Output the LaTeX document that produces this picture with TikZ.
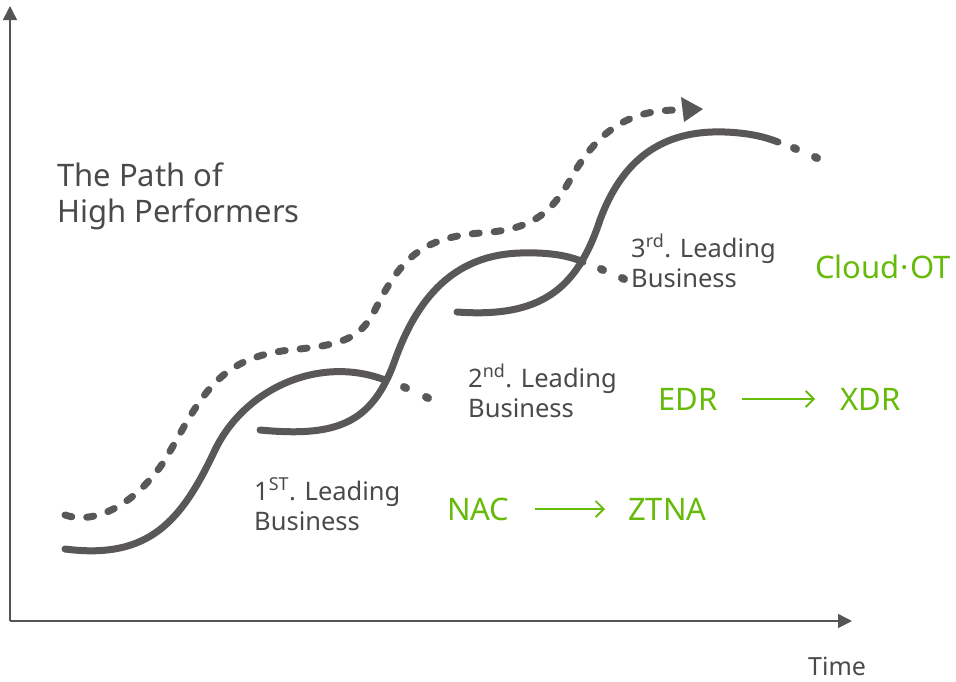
\documentclass[tikz,border=0pt]{standalone}
\usepackage{fontspec}
\setmainfont{Noto Sans}
\usetikzlibrary{arrows.meta}
\definecolor{curvegray}{HTML}{595757}
\definecolor{txtgray}{HTML}{4A4A4A}
\definecolor{axisgray}{HTML}{555555}
\definecolor{lgreen}{HTML}{66BB0A}
\tikzset{
  wave/.style={draw=curvegray, line width=7pt, line cap=round},
  dotseg/.style={draw=curvegray, line width=8pt, line cap=round},
  dashwave/.style={draw=curvegray, line width=7pt, line cap=round, dash pattern=on 7pt off 15pt},
  axisline/.style={draw=axisgray, line width=1.5pt, -{Triangle[length=14pt,width=14pt]}},
  lbl/.style={anchor=base west, inner sep=0pt, text=txtgray, font=\fontsize{25.5}{30}\selectfont, align=left},
  glbl/.style={anchor=base west, inner sep=0pt, text=lgreen, font=\fontsize{31}{36}\selectfont},
  garrow/.style={draw=lgreen, line width=1.8pt, -{Straight Barb[length=8pt,width=16pt]}}
}
\begin{document}
\begin{tikzpicture}[x=1pt,y=-1pt]
\useasboundingbox (0,0) rectangle (956,681);
% axes
\coordinate (origin) at (10,621);
\coordinate (ytip) at (10,6);
\coordinate (xtip) at (852,621);
\draw[axisline] (origin) -- (ytip);
\draw[axisline] (origin) -- (xtip);
\node[anchor=base west, inner sep=0pt, text=txtgray, font=\fontsize{25}{30}\selectfont] (time) at (808,675) {Time};
% title
\node[anchor=base west, inner sep=0pt, text=txtgray, font=\fontsize{31}{36}\selectfont, align=left] (title) at (57,222) {The Path of\\High Performers};
% dashed path
\draw[dashwave] (65,515) .. controls (95,525) and (135,505) .. (165,460)
  .. controls (200,400) and (215,358) .. (290,350)
  .. controls (340,345) and (360,340) .. (375,310)
  .. controls (400,260) and (420,238) .. (480,233)
  .. controls (530,230) and (550,215) .. (570,180)
  .. controls (600,125) and (635,110) .. (678,110);
\fill[curvegray] (681,97) -- (703,109) -- (684,122) -- cycle;
% curve 1
\draw[wave] (65,549) .. controls (150,560) and (182,520) .. (215,450)
  .. controls (245,388) and (320,355) .. (385,380);
\draw[dotseg] (404,387) -- (406,388);
\draw[dotseg] (426,397) -- (428,398);
% curve 2
\draw[wave] (260,430) .. controls (335,437) and (372,425) .. (395,360)
  .. controls (420,290) and (460,255) .. (520,253)
  .. controls (550,252) and (570,256) .. (583,262);
\draw[dotseg] (601,269) -- (603,270);
\draw[dotseg] (622,278) -- (624,279);
% curve 3
\draw[wave] (457,312) .. controls (540,318) and (577,290) .. (600,220)
  .. controls (625,152) and (670,130) .. (725,132)
  .. controls (750,133) and (765,137) .. (778,142);
\draw[dotseg] (794,148) -- (796,149);
\draw[dotseg] (815,157) -- (817,158);
% labels
\node[lbl] (l1) at (254,530) {1\textsuperscript{ST}. Leading\\Business};
\node[lbl] (l2) at (468,417) {2\textsuperscript{nd}. Leading\\Business};
\node[lbl] (l3) at (631,287) {3\textsuperscript{rd}. Leading\\Business};
% green
\node[glbl] (nac) at (447,520) {NAC};
\node[glbl] (ztna) at (628,520) {ZTNA};
\draw[garrow] (535,509) -- (605,509);
\node[glbl] (edr) at (658,410) {EDR};
\node[glbl] (xdr) at (840,410) {XDR};
\draw[garrow] (742,399) -- (815,399);
\node[glbl] (cloud) at (815,278) {Cloud\kern1pt·\kern1pt OT};
\end{tikzpicture}
\end{document}
